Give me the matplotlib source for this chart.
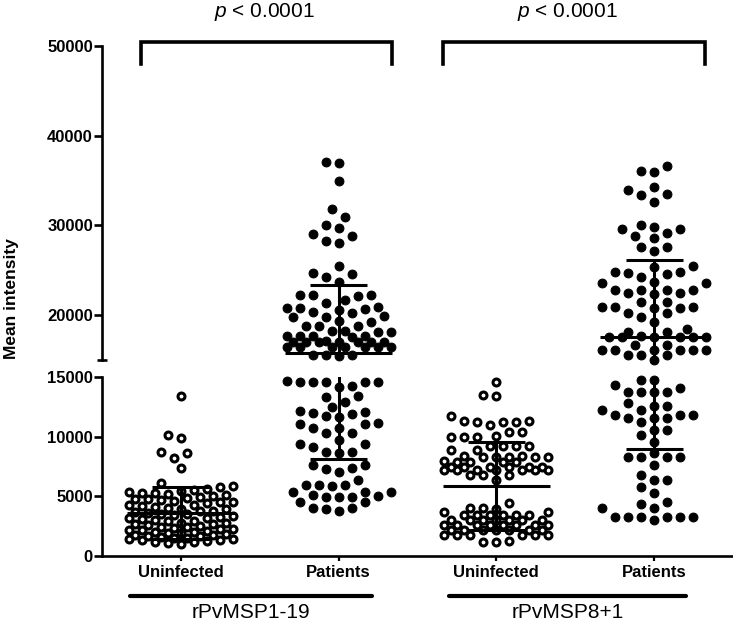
import numpy as np
import matplotlib
matplotlib.use("Agg")
import matplotlib.pyplot as plt
from matplotlib.transforms import blended_transform_factory

plt.rcParams.update({
    "font.family": ["Liberation Sans", "DejaVu Sans"],
    "mathtext.fontset": "custom",
    "mathtext.it": "Liberation Sans:italic",
    "mathtext.rm": "Liberation Sans",
})

# ---------------------------------------------------------------- data
groups = ["Uninfected", "Patients", "Uninfected", "Patients"]
antigens = ["rPvMSP1-19", "rPvMSP8+1"]
filled = [False, True, False, True]

unin_msp119 = [13400, 10100, 9900, 8700, 8600, 8200, 7400,
               6100, 5900, 5800, 5600, 5500, 5450, 5400, 5300, 5250, 5200,
               5100, 5000, 4950, 4900, 4800, 4750, 4700, 4600, 4550, 4500,
               4400, 4300, 4250, 4200, 4100, 4000, 3950, 3900, 3800, 3750,
               3700, 3600, 3550, 3500, 3400, 3350, 3300, 3200, 3150, 3100,
               3000, 2950, 2900, 2800, 2750, 2700, 2650, 2600, 2500, 2450,
               2400, 2350, 2300, 2250, 2200, 2150, 2100, 2050, 2000, 1950,
               1900, 1850, 1800, 1750, 1700, 1650, 1600, 1550, 1500, 1450,
               1400, 1350, 1300, 1250, 1200, 1150, 1100, 1000]
pat_msp119 = [37100, 37000, 35000, 31800, 30900, 30000, 29700, 29100, 28800,
              28300, 28000, 25500, 24700, 24600, 24300, 23700,
              22300, 22200, 22100, 22200, 21700, 21300,
              20900, 20800, 20700, 20800, 20600, 20300, 20200,
              19850, 19800, 19830, 19300, 19250, 18800, 18750, 18800,
              18200, 18150, 18100, 18200, 17700, 17650, 17700, 17680, 17600,
              17050, 17000, 17040, 17100, 17020, 17060, 17000, 17040,
              16500, 16450, 16480, 16500, 16400, 16480, 16500,
              15600, 15550, 15560, 15500,
              14600, 14650, 14600, 14550, 14600, 14620, 14250, 14200,
              13350, 13400, 12900, 12500, 12100, 12150, 11950, 11900,
              11670, 11700, 11100, 11150, 11050, 10700, 10750, 10280, 10300,
              9720, 9380, 9400, 9160, 8740, 8700, 8600,
              7630, 7600, 7350, 7300, 7060, 6370,
              5950, 5900, 5980, 5920, 5390, 5400, 5350, 5110,
              4970, 4950, 5000, 4980, 4550, 4500, 4000, 4050, 3980, 3800]
unin_msp81 = [14600, 13500, 13400, 11700,
              11300, 11200, 11250, 11200, 11300, 11000,
              10420, 10400, 10000, 10050, 9980, 10000,
              9220, 9250, 9200, 9220, 8880, 8900,
              8320, 8300, 8350, 8320, 8300, 8340, 8320,
              7900, 7880, 7920, 7900, 7900,
              7480, 7500, 7460, 7480, 7500, 7480,
              7200, 7220, 7180, 7200, 7200, 7220, 7180,
              6790, 6800, 6780, 6370,
              4420, 4000, 4020, 3980, 3710, 3700,
              3440, 3450, 3430, 3440, 3460, 3440,
              3020, 3000, 3040, 3020, 3010, 3030, 3020,
              2600, 2620, 2580, 2600, 2610, 2590, 2600, 2600,
              2180, 2200, 2170, 2180, 2190, 2180, 2170,
              1760, 1750, 1770, 1760, 1750, 1760,
              1200, 1220, 1180]
pat_msp81 = [36600, 36000, 36050, 34300, 33900, 33400, 33450, 32650,
             30050, 29860, 29570, 29600, 29120, 28830, 28570,
             27640, 27600, 27190, 25400, 25450, 24840, 24850, 24600, 24650,
             24300, 23620, 23650, 23600, 22800, 22820, 22780, 22800,
             22430, 22450, 22400, 21500, 21520, 20950, 20960, 20940,
             20760, 20750, 20200, 20220, 19760, 19270, 18410, 18150, 18160,
             17600, 17620, 17580, 17600, 17610, 17590, 17600,
             16670, 16680, 16100, 16120, 16080, 16100, 16110, 16090,
             15560, 15570, 15550, 15050,
             14750, 14760, 14330, 14050, 13770, 13780, 13760, 13770,
             12800, 12570, 12580, 12230, 12240, 11820, 11830, 11810,
             11540, 11550, 11530, 11250, 10560, 10570, 10140, 9580,
             8600, 8320, 8330, 8310, 8320, 7630, 6790, 6370, 6380,
             5810, 5250, 4550, 4360, 4000, 4010,
             3290, 3300, 3280, 3290, 3300, 3280, 3020]
data = [unin_msp119, pat_msp119, unin_msp81, pat_msp81]

# mean and SD bars
means = [3580, 15750, 5870, 17530]
sds = [2170, 7600, 3710, 8600]
p_text = r"$p$ < 0.0001"

BREAK = 15000


def swarm_x(ax, xc, vals, step=6.5, mind=11.5, maxoff=53):
    vals = np.sort(np.asarray(vals, float))
    pix = ax.transData.transform(np.column_stack([np.full(len(vals), xc), vals]))
    n = int(maxoff // step)
    ks = sorted(range(-n, n + 1), key=lambda k: (abs(k), k))
    placed, out = [], []
    for px, py in pix:
        best, bestd = px, -1.0
        for k in ks:
            cx = px + k * step
            d = min((np.hypot(cx - qx, py - qy) for qx, qy in placed), default=1e9)
            if d >= mind:
                best = cx
                break
            if d > bestd:
                bestd, best = d, cx
        placed.append((best, py))
        out.append(best)
    xs = ax.transData.inverted().transform(np.column_stack([out, pix[:, 1]]))[:, 0]
    return xs, vals


W, H = 733, 625
fig = plt.figure(figsize=(W / 100, H / 100), dpi=100)
x0, x1 = 102, 733
ax_lo = fig.add_axes([x0 / W, 1 - 556 / H, (x1 - x0) / W, (556 - 377) / H])
ax_hi = fig.add_axes([x0 / W, 1 - 360 / H, (x1 - x0) / W, (360 - 46) / H])

for ax in (ax_lo, ax_hi):
    ax.set_xlim(-0.5, 3.5)
    for s in ("top", "right"):
        ax.spines[s].set_visible(False)
    ax.spines["left"].set_linewidth(1.9)
    ax.tick_params(axis="y", direction="out", length=5.5, width=1.9, pad=1,
                   labelsize=12)
ax_lo.set_ylim(0, BREAK)
ax_hi.set_ylim(BREAK, 50000)
ax_lo.set_yticks([0, 5000, 10000, 15000])
ax_hi.set_yticks([20000, 30000, 40000, 50000])
for ax in (ax_lo, ax_hi):
    ax.set_yticklabels([str(t) for t in ax.get_yticks().astype(int)],
                       fontweight="bold", fontsize=12)
ax_hi.spines["bottom"].set_visible(False)
ax_hi.set_xticks([])
ax_lo.spines["bottom"].set_linewidth(1.9)
ax_lo.set_xticks(range(4))
ax_lo.set_xticklabels(groups, fontweight="bold", fontsize=12)
ax_lo.tick_params(axis="x", direction="out", length=3.5, width=1.6, pad=3)

# break cap on the upper spine
ax_hi.plot([-0.532, -0.468], [BREAK, BREAK], color="k", lw=1.9,
           clip_on=False, solid_capstyle="butt")

# points
for i, vals in enumerate(data):
    vals = np.asarray(vals, float)
    for ax, part in ((ax_lo, vals[vals < BREAK]), (ax_hi, vals[vals >= BREAK])):
        if len(part) == 0:
            continue
        xs, ys = swarm_x(ax, i, part)
        if filled[i]:
            ax.plot(xs, ys, "o", ms=6.4, mfc="k", mec="k", mew=0.7,
                    ls="none", zorder=2, clip_on=False)
        else:
            ax.plot(xs, ys, "o", ms=5.0, mfc="white", mec="k", mew=2.2,
                    ls="none", zorder=2, clip_on=False)

# mean and SD bars
for i, (m, s) in enumerate(zip(means, sds)):
    for ax in (ax_lo, ax_hi):
        kw = dict(color="k", lw=2.2, zorder=4, solid_capstyle="butt")
        ax.plot([i, i], [m - s, m + s], **kw)
        ax.plot([i - 0.34, i + 0.34], [m, m], **kw)
        ax.plot([i - 0.18, i + 0.18], [m - s, m - s], **kw)
        ax.plot([i - 0.18, i + 0.18], [m + s, m + s], **kw)

# significance brackets
for (xa, xb), xt in (((-0.25, 1.34), 0.53), ((1.66, 3.32), 2.45)):
    ax_hi.plot([xa, xa, xb, xb], [48000, 50450, 50450, 48000], color="k",
               lw=2.6, clip_on=False, solid_joinstyle="miter")
    ax_hi.text(xt, 53800, p_text, ha="center", va="center", fontsize=15,
               clip_on=False)

# antigen group lines and labels
tr = blended_transform_factory(ax_lo.transData, fig.transFigure)
for (xa, xb), name in zip(((-0.32, 1.21), (1.70, 3.20)), antigens):
    ax_lo.plot([xa, xb], [1 - 596 / H] * 2, transform=tr, color="k", lw=3,
               clip_on=False, solid_capstyle="round")
    ax_lo.text((xa + xb) / 2, 1 - 613 / H, name, transform=tr, ha="center",
               va="center", fontsize=15)

fig.text(12 / W, 1 - 299 / H, "Mean intensity", rotation=90, ha="center",
         va="center", fontsize=12.5, fontweight="bold")

fig.savefig("out.png", dpi=100)
